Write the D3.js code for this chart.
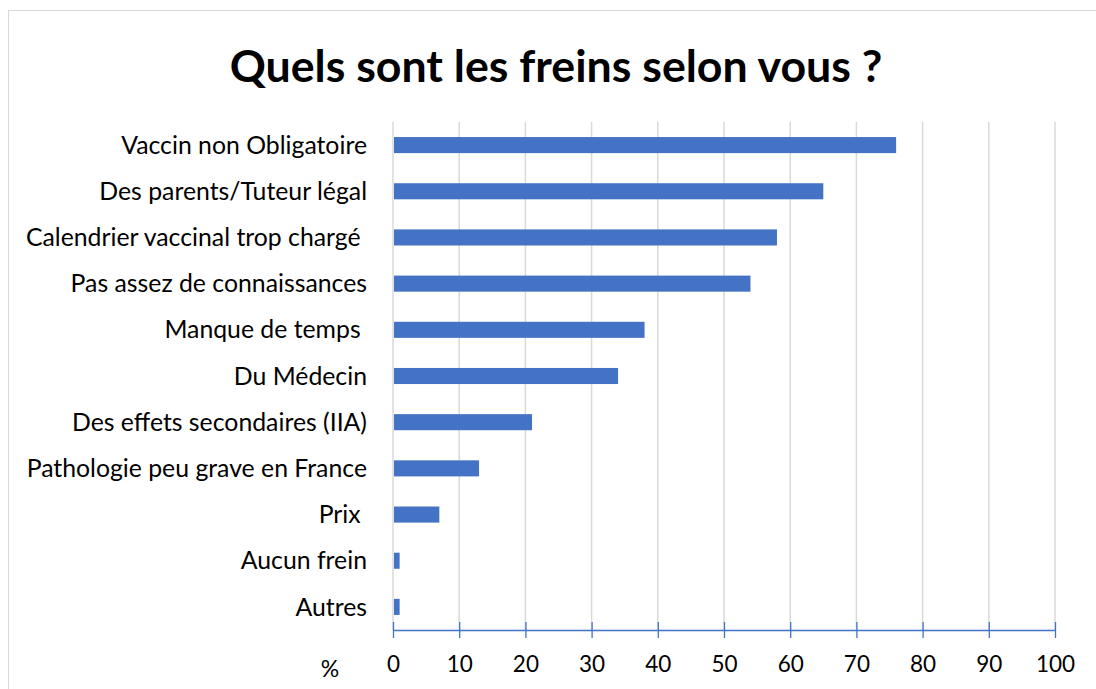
<!DOCTYPE html>
<html>
<head>
<meta charset="utf-8">
<script src="https://cdn.jsdelivr.net/npm/d3@7"></script>
<style>
  body { margin: 0; background: #fff; }
  text { font-family: Lato, "Open Sans", sans-serif; }
</style>
</head>
<body>
<div id="chart"></div>
<script>
// Chart data
var categories = [
    "Vaccin non Obligatoire",
    "Des parents/Tuteur légal",
    "Calendrier vaccinal trop chargé ",
    "Pas assez de connaissances",
    "Manque de temps ",
    "Du Médecin",
    "Des effets secondaires (IIA)",
    "Pathologie peu grave en France",
    "Prix ",
    "Aucun frein",
    "Autres"
];
var values = [76, 65, 58, 54, 38, 34, 21, 13, 7, 1, 1];
var xTicks = [0, 10, 20, 30, 40, 50, 60, 70, 80, 90, 100];

// Define svg dimension
var svgWidth = 1096;
var svgHeight = 689;

// Plot area
var plotLeft = 393;
var plotRight = 1055;
var plotTop = 122;
var plotBottom = 630;

var svg = d3.select("#chart")
    .append("svg")
    .attr("width", svgWidth)
    .attr("height", svgHeight);

// Outer frame (cut off at right and bottom)
svg.append("rect")
    .attr("x", 8.5)
    .attr("y", 10.5)
    .attr("width", 1200)
    .attr("height", 800)
    .attr("fill", "none")
    .attr("stroke", "#d9d9d9")
    .attr("stroke-width", 1);

// Scales
var xScale = d3.scaleLinear()
    .domain([0, 100])
    .range([plotLeft, plotRight]);

var yScale = d3.scaleBand()
    .domain(categories)
    .range([plotTop, plotBottom])
    .paddingInner(0.652)
    .paddingOuter(0.326);

// Gridlines
svg.append("g")
    .selectAll("line")
    .data(xTicks)
    .enter()
    .append("line")
    .attr("x1", d => xScale(d))
    .attr("x2", d => xScale(d))
    .attr("y1", plotTop)
    .attr("y2", plotBottom)
    .attr("stroke", "#d9d9d9")
    .attr("stroke-width", 1.5);

// Bars
svg.append("g")
    .selectAll("rect")
    .data(values)
    .enter()
    .append("rect")
    .attr("x", xScale(0) + 1)
    .attr("y", (d, i) => yScale(categories[i]))
    .attr("width", d => xScale(d) - xScale(0) - 1)
    .attr("height", yScale.bandwidth())
    .attr("fill", "#4472c4");

// Category labels
svg.append("g")
    .selectAll("text")
    .data(categories)
    .enter()
    .append("text")
    .attr("x", 367)
    .attr("y", d => yScale(d) + yScale.bandwidth() / 2)
    .attr("dy", "0.35em")
    .attr("text-anchor", "end")
    .style("white-space", "pre")
    .attr("font-size", 24.8)
    .attr("fill", "#000")
    .text(d => d);

// X axis
var xAxis = d3.axisBottom(xScale)
    .tickValues(xTicks)
    .tickSizeInner(8)
    .tickSizeOuter(0)
    .tickPadding(18);

var axisG = svg.append("g")
    .attr("transform", `translate(0,${plotBottom})`)
    .call(xAxis);

axisG.select(".domain")
    .attr("stroke", "#4472c4")
    .attr("stroke-width", 1.3);

axisG.selectAll(".tick line")
    .attr("stroke", "#4472c4")
    .attr("stroke-width", 1.3)
    .attr("y1", -8)
    .attr("y2", 8);

axisG.selectAll(".tick text")
    .attr("font-family", "Lato, sans-serif")
    .attr("font-size", 22.5)
    .attr("fill", "#000");

// Unit label
svg.append("text")
    .attr("x", 330)
    .attr("y", 677)
    .attr("text-anchor", "middle")
    .attr("font-size", 23)
    .text("%");

// Title
svg.append("text")
    .attr("x", 556)
    .attr("y", 82)
    .attr("text-anchor", "middle")
    .attr("font-size", 44.7)
    .attr("font-weight", "bold")
    .text("Quels sont les freins selon vous ?");
</script>
</body>
</html>
